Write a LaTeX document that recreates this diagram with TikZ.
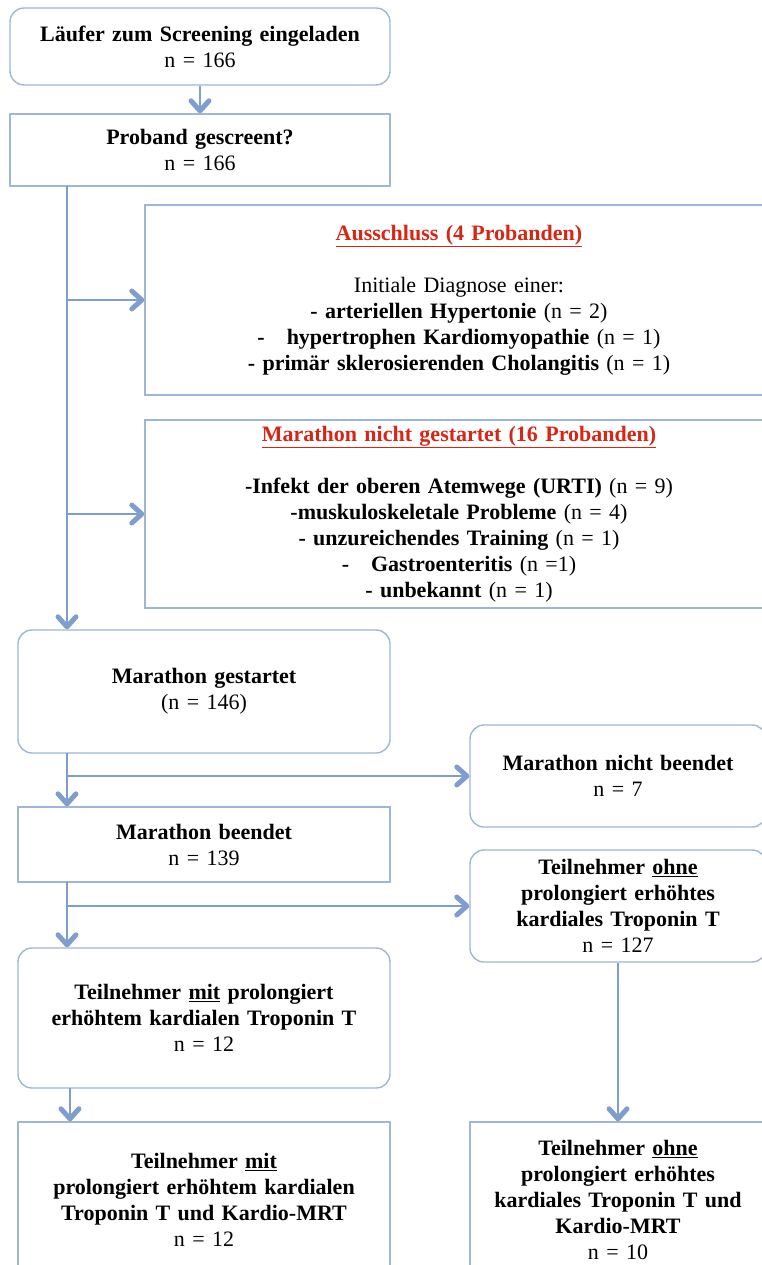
\documentclass[tikz,border=0pt]{standalone}
\usepackage{fontspec}
\setmainfont{Liberation Serif}
\usetikzlibrary{arrows.meta,positioning}
\definecolor{boxline}{RGB}{160,182,214}
\definecolor{arrowline}{RGB}{128,158,204}
\definecolor{titlered}{RGB}{214,38,22}
\newcommand{\redtitle}[1]{\textcolor{titlered}{\underline{\textbf{#1}}}}

\begin{document}
\begin{tikzpicture}[x=1pt, y=-1pt, font=\fontsize{22}{26}\selectfont, box/.style = {draw=boxline, line width=1.4pt, fill=white, align=center, inner sep=4pt}, roundbox/.style = {box, rounded corners=14pt}, edge/.style = {draw=arrowline, line width=2.8pt, -{Straight Barb[length=10pt,width=18pt,line width=5pt,round]}}]
	\useasboundingbox (0,0) rectangle (762,1265);
	\clip (0,0) rectangle (762,1265);
	\node[roundbox, text width=372pt, minimum height=77pt] (invited) at (200,46.5) {\textbf{Läufer zum Screening eingeladen}\\ n = 166};
	\node[box, text width=372pt, minimum height=72pt] (screened) at (200,150) {\textbf{Proband gescreent?}\\ n = 166};
	\node[box, text width=620pt, minimum height=190pt] (excluded) at (459,300) {\redtitle{Ausschluss (4 Probanden)}\\[26pt] Initiale Diagnose einer:\\ \textbf{- arteriellen Hypertonie} (n = 2)\\ \textbf{-\quad hypertrophen Kardiomyopathie} (n = 1)\\ \textbf{- primär sklerosierenden Cholangitis} (n = 1)};
	\node[box, text width=620pt, minimum height=188pt] (notstarted) at (459,514) {\redtitle{Marathon nicht gestartet (16 Probanden)}\\[26pt] \textbf{-Infekt der oberen Atemwege (URTI)} (n = 9)\\ \textbf{-muskuloskeletale Probleme} (n = 4)\\ \textbf{- unzureichendes Training} (n = 1)\\ \textbf{-\quad Gastroenteritis} (n =1)\\ \textbf{- unbekannt} (n = 1)};
	\node[roundbox, text width=364pt, minimum height=123pt] (started) at (204,691.5) {\textbf{Marathon gestartet}\\ (n = 146)};
	\node[roundbox, text width=288pt, minimum height=102pt] (notfinished) at (618,776) {\textbf{Marathon nicht beendet}\\ n = 7};
	\node[box, text width=364pt, minimum height=75pt] (finished) at (204,844.5) {\textbf{Marathon beendet}\\ n = 139};
	\node[roundbox, text width=288pt, minimum height=112pt] (without) at (618,906) {\textbf{Teilnehmer \underline{ohne}}\\ \textbf{prolongiert erhöhtes}\\ \textbf{kardiales Troponin T}\\ n = 127};
	\node[roundbox, text width=364pt, minimum height=140pt] (with) at (204,1018) {\textbf{Teilnehmer \underline{mit} prolongiert}\\ \textbf{erhöhtem kardialen Troponin T}\\ n = 12};
	\node[box, text width=364pt, minimum height=156pt] (withmrt) at (204,1200) {\textbf{Teilnehmer \underline{mit}}\\ \textbf{prolongiert erhöhtem kardialen}\\ \textbf{Troponin T und Kardio-MRT}\\ n = 12};
	\node[box, text width=288pt, minimum height=156pt] (withoutmrt) at (618,1200) {\textbf{Teilnehmer \underline{ohne}}\\ \textbf{prolongiert erhöhtes}\\ \textbf{kardiales Troponin T und}\\ \textbf{Kardio-MRT}\\ n = 10};
	\coordinate (trunk) at (67,186);
	\coordinate (split1) at (67,753);
	\coordinate (split2) at (67,882);
	\coordinate (split3) at (70,1088);
	\draw[edge] (invited) to (screened);
	\draw[edge] (trunk) to (trunk |- started.north);
	\draw[edge] (trunk |- excluded.west) to (excluded.west);
	\draw[edge] (trunk |- notstarted.west) to (notstarted.west);
	\draw[edge] (split1) to (split1 |- finished.north);
	\draw[edge] (split1 |- notfinished.west) to (notfinished.west);
	\draw[edge] (split2) to (split2 |- with.north);
	\draw[edge] (split2 |- without.west) to (without.west);
	\draw[edge] (split3) to (split3 |- withmrt.north);
	\draw[edge] (without) to (withoutmrt);
\end{tikzpicture}
\end{document}
